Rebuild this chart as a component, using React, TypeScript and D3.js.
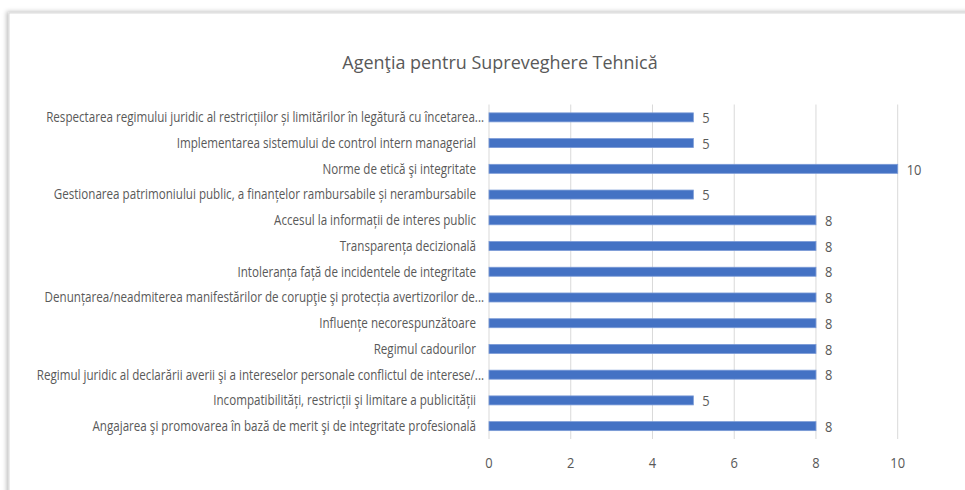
import React from "react";
import * as d3 from "d3";

const title = "Agenţia pentru Supreveghere Tehnică";

const categories = [
  "Respectarea regimului juridic al restricțiilor și limitărilor în legătură cu încetarea...",
  "Implementarea sistemului de control intern managerial",
  "Norme de etică şi integritate",
  "Gestionarea patrimoniului public, a finanțelor rambursabile și nerambursabile",
  "Accesul la informații de interes public",
  "Transparența decizională",
  "Intoleranța față de incidentele de integritate",
  "Denunțarea/neadmiterea manifestărilor de corupţie şi protecția avertizorilor de...",
  "Influențe necorespunzătoare",
  "Regimul cadourilor",
  "Regimul juridic al declarării averii şi a intereselor personale conflictul de interese/...",
  "Incompatibilități, restricții şi limitare a publicității",
  "Angajarea şi promovarea în bază de merit şi de integritate profesională",
];
const values = [5, 5, 10, 5, 8, 8, 8, 8, 8, 8, 8, 5, 8];
const xTicks = [0, 2, 4, 6, 8, 10];

const W = 965;
const H = 490;
const plot = { left: 489, right: 897.7, top: 104.5, bottom: 439 };
const FONT = "'Open Sans', sans-serif";
const GRAY = "#595959";
const SQUEEZE = 0.86; // reference font is narrower than the installed ones
const LABEL_SQUEEZE = 0.83;

export default function App() {
  const x = d3.scaleLinear().domain([0, 10]).range([plot.left, plot.right]);
  const y = d3
    .scaleBand<string>()
    .domain(categories)
    .range([plot.top, plot.bottom])
    .paddingInner(0.65)
    .paddingOuter(0.325);

  return (
    <svg
      width={W}
      height={H}
      style={{ position: "absolute", left: 0, top: 0, background: "#fff" }}
    >
      <defs>
        <filter id="shadow" x="-5%" y="-5%" width="110%" height="110%">
          <feDropShadow dx={-2} dy={-1} stdDeviation={2} floodColor="#000" floodOpacity={0.25} />
        </filter>
      </defs>
      {/* chart frame */}
      <rect
        x={9}
        y={13}
        width={W + 20}
        height={H + 20}
        fill="#fff"
        stroke="#d9d9d9"
        filter="url(#shadow)"
      />
      <text
        transform={`translate(500,69) scale(0.945,1)`}
        textAnchor="middle"
        fontFamily={FONT}
        fontSize={19}
        fill={GRAY}
      >
        {title}
      </text>
      {/* gridlines */}
      {xTicks.map((t) => (
        <line
          key={t}
          x1={x(t)}
          x2={x(t)}
          y1={plot.top}
          y2={plot.bottom}
          stroke="#d9d9d9"
          strokeWidth={1}
        />
      ))}
      {xTicks.map((t) => (
        <text
          key={"t" + t}
          transform={`translate(${x(t)},468) scale(${SQUEEZE},1)`}
          textAnchor="middle"
          fontFamily={FONT}
          fontSize={15}
          fill={GRAY}
        >
          {t}
        </text>
      ))}
      {categories.map((c, i) => {
        const yy = y(c)!;
        const bh = y.bandwidth();
        const cy = yy + bh / 2;
        return (
          <g key={c}>
            <text
              transform={`translate(${c.endsWith("...") ? 484 : 476},${cy}) scale(${LABEL_SQUEEZE},1)`}
              dy="0.35em"
              textAnchor="end"
              fontFamily={FONT}
              fontSize={14}
              fill={GRAY}
            >
              {c}
            </text>
            <rect
              x={x(0)}
              y={yy}
              width={x(values[i]) - x(0)}
              height={bh}
              fill="#4472C4"
              stroke="#7a9ad6"
              strokeWidth={0.8}
            />
            <text
              transform={`translate(${x(values[i]) + 9},${cy}) scale(${SQUEEZE},1)`}
              dy="0.38em"
              fontFamily={FONT}
              fontSize={15}
              fill={GRAY}
            >
              {values[i]}
            </text>
          </g>
        );
      })}
    </svg>
  );
}
